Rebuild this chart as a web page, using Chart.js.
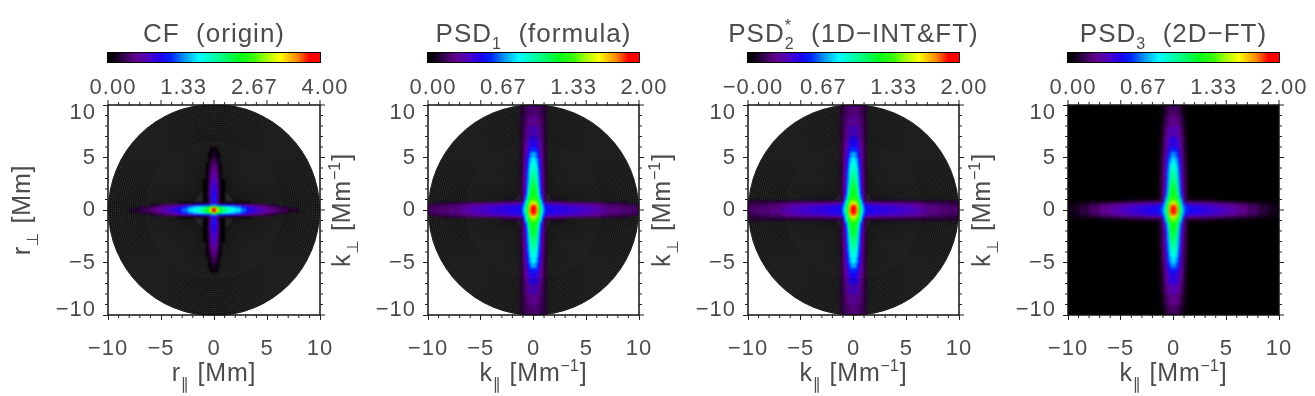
<!DOCTYPE html>
<html><head><meta charset="utf-8">
<style>html,body{margin:0;background:#fff;width:1315px;height:396px;overflow:hidden}canvas{position:absolute;top:0}</style>
<script src="https://cdn.jsdelivr.net/npm/chart.js@4"></script>
</head><body>
<canvas id="c0" width="370" height="396" style="left:0"></canvas>
<canvas id="c1" width="370" height="396" style="left:325px"></canvas>
<canvas id="c2" width="370" height="396" style="left:645px"></canvas>
<canvas id="c3" width="350" height="396" style="left:965px"></canvas>
<script>
// Quadrant cell edges, in Mm or Mm^-1. The picture is mirrored about both axes.
const gridEdges = [0,.2,.4,.6,.8,1,1.25,1.5,2,2.5,3,3.5,4,4.5,5,5.5,6,7,8,9,10];
const axisTicks = [-10,-5,0,5,10];
const minorTicks = [-9,-8,-7,-6,-4,-3,-2,-1,1,2,3,4,6,7,8,9];
const discRadius = 10;
const ringStep = .2;
const spokeCount = 240;

const cfBarTicks = ['0.00','1.33','2.67','4.00'];
const psd1BarTicks = ['0.00','0.67','1.33','2.00'];
const psd2BarTicks = ['\u22120.00','0.67','1.33','2.00'];
const psd3BarTicks = ['0.00','0.67','1.33','2.00'];
const barTickFractions = [0,1/3,2/3,1];

// Each row is one |y| band; rows stop where the cross meets the background.
const cfRows = [
[4.0,3.3,2.7,2.4,2.2,2.05,1.95,1.8,1.65,1.35,1.05,.9,.78,.66,.56,.46,.34,.22],
[2.9,2.7,2.4,2.2,2.0,1.85,1.75,1.6,1.4,1.15,.92,.78,.66,.54,.44,.36,.25],
[1.4,1.3,1.2,1.15,1.1,1.05,1,.92,.8,.7,.58,.5,.42,.34,.26,.18],
[1.0,.7,.35,.2,.18,.18,.15,.12,.1,.08,.06],
[1.05,.7,.25,.06,.02],
[1.1,.8,.32,.08,0],
[1.05,.8,.35,.08,0],
[.98,.75,.35,.08,0],
[.88,.68,.32,.06,0],
[.78,.62,.3,.05,0],
[.68,.54,.25,.04],
[.56,.45,.2,.03],
[.46,.35,.14,.03],
[.32,.22,.09],
[.18,.11,.03],
[.1,.06]
];
const psd1Rows = [
[2.0,1.75,1.35,1.05,.82,.55,.52,.5,.48,.47,.46,.44,.42,.4,.38,.36,.32,.27,.24,.22],
[1.98,1.7,1.3,1.0,.78,.55,.5,.48,.46,.45,.44,.42,.4,.38,.36,.34,.3,.25,.22,.2],
[1.8,1.55,1.25,.95,.72,.5,.47,.44,.42,.4,.38,.36,.34,.33,.31,.29,.26,.22,.19,.16],
[1.6,1.45,1.2,.9,.62,.3,.28,.27,.26,.25,.24,.23,.22,.21,.2,.19,.17,.14,.12,.1],
[1.45,1.35,1.15,.85,.55,.15,.14,.13,.12,.12,.11,.1,.1,.1,.09,.08,.06,.05,.04,.03],
[1.32,1.25,1.0,.7,.38,.14],
[1.28,1.2,.92,.62,.36,.14],
[1.25,1.12,.82,.52,.32,.14],
[1.2,1.05,.76,.48,.3,.14],
[1.12,.98,.72,.46,.28,.13],
[1.05,.92,.68,.44,.27,.13],
[.98,.88,.64,.42,.26,.12],
[.92,.82,.6,.4,.25,.12],
[.84,.74,.55,.38,.24,.12],
[.75,.64,.48,.34,.22,.12],
[.58,.54,.42,.3,.21,.12],
[.48,.46,.37,.28,.2,.12],
[.38,.37,.31,.25,.18,.12],
[.29,.28,.25,.21,.16,.12],
[.23,.22,.2,.18,.14,.12]
];
const psd2Rows = [
[2.0,1.75,1.35,1.05,.82,.55,.52,.5,.48,.47,.46,.44,.42,.41,.39,.37,.33,.28,.25,.23],
[1.98,1.7,1.3,1.0,.78,.55,.5,.48,.46,.45,.44,.42,.41,.39,.37,.35,.31,.26,.23,.21],
[1.8,1.55,1.25,.95,.72,.5,.47,.44,.42,.4,.38,.37,.36,.35,.33,.31,.28,.24,.21,.18],
[1.6,1.45,1.2,.9,.62,.3,.28,.27,.26,.25,.25,.24,.24,.23,.22,.21,.19,.17,.15,.13],
[1.45,1.35,1.15,.85,.55,.15,.14,.13,.12,.12,.12,.12,.12,.12,.12,.12,.12,.12,.12,.12],
[1.32,1.25,1.0,.7,.38,.14],
[1.28,1.2,.92,.62,.36,.14],
[1.25,1.12,.82,.52,.32,.14],
[1.2,1.05,.76,.48,.3,.14],
[1.12,.98,.72,.46,.28,.13],
[1.05,.92,.68,.44,.27,.13],
[.98,.88,.64,.42,.26,.12],
[.92,.82,.6,.4,.25,.12],
[.84,.74,.55,.38,.24,.13],
[.75,.64,.48,.35,.23,.13],
[.6,.55,.43,.31,.22,.13],
[.5,.47,.38,.29,.21,.13],
[.4,.38,.32,.26,.2,.13],
[.31,.3,.26,.22,.18,.13],
[.25,.24,.21,.19,.16,.13]
];
const psd3Rows = [
[2.0,1.75,1.35,1.05,.82,.6,.56,.52,.5,.47,.45,.43,.41,.38,.35,.32,.27,.2,.13,.08],
[1.98,1.7,1.3,1.0,.78,.58,.55,.5,.48,.46,.44,.41,.39,.36,.33,.31,.26,.19,.12,.07],
[1.8,1.55,1.25,.95,.72,.52,.48,.45,.43,.41,.39,.37,.35,.32,.3,.27,.23,.17,.11,.06],
[1.6,1.45,1.2,.9,.62,.32,.3,.28,.27,.26,.25,.24,.22,.2,.18,.16,.13,.1,.06,.04],
[1.45,1.35,1.15,.85,.55,.15,.14,.13,.12,.12,.11,.1,.09,.08,.07,.06,.05,.03,.02,.01],
[1.32,1.25,1.0,.7,.38,.16,.04,.02,.01,.01,.01,.01,0],
[1.28,1.2,.92,.62,.36,.16,.04,0],
[1.25,1.12,.82,.52,.32,.15,.04,0],
[1.2,1.05,.76,.48,.3,.15,.04,0],
[1.12,.98,.72,.46,.28,.14,.04,0],
[1.05,.92,.68,.44,.27,.14,.04,0],
[.98,.88,.64,.42,.26,.13,.04,0],
[.92,.82,.6,.4,.25,.12,.03,0],
[.82,.72,.55,.38,.24,.12,.03,0],
[.72,.62,.48,.34,.22,.11,.03,0],
[.56,.52,.42,.3,.2,.1,.03,0],
[.46,.44,.36,.27,.18,.09,.02,0],
[.35,.34,.28,.22,.15,.07,.02,0],
[.26,.25,.21,.16,.11,.05,.01,0],
[.19,.18,.15,.12,.08,.03,.01,0]
];

// Colour bar: position along the bar and its colour.
const colourPositions = [0,.04,.08,.14,.2,.25,.3,.36,.43,.52,.62,.69,.75,.81,.89,.95,1];
const colourValues = [[0,0,0],[20,0,28],[60,0,85],[100,0,150],[70,0,200],[30,0,240],[0,40,255],[0,150,255],[0,255,255],[0,255,150],[0,255,30],[60,255,0],[170,255,0],[255,255,0],[255,140,0],[255,0,0],[255,0,0]];

const titleRuns = [
 [{t:'CF  (origin)'}],
 [{t:'PSD'},{sub:'1'},{t:'  (formula)'}],
 [{t:'PSD'},{sub:'2',sup:'*'},{t:'  (1D\u2212INT&FT)'}],
 [{t:'PSD'},{sub:'3'},{t:'  (2D\u2212FT)'}]
];
const xTitleRuns = [
 [{t:'r'},{sub:'\u2225'},{t:' [Mm]'}],
 [{t:'k'},{sub:'\u2225'},{t:' [Mm'},{sup:'\u22121'},{t:']'}]
];
const yTitleRuns = [
 [{t:'r'},{sub:'\u22a5'},{t:' [Mm]'}],
 [{t:'k'},{sub:'\u22a5'},{t:' [Mm'},{sup:'\u22121'},{t:']'}]
];

const FONT = '"Liberation Sans","DejaVu Sans",sans-serif';
const INK = '#4c4c4c';

function colourAt(t){
  t=Math.max(0,Math.min(1,t));
  let i=0; while(i<colourPositions.length-2 && t>colourPositions[i+1]) i++;
  const f=(t-colourPositions[i])/(colourPositions[i+1]-colourPositions[i]);
  const a=colourValues[i],b=colourValues[i+1];
  return 'rgb('+a.map((v,k)=>Math.round(v+(b[k]-v)*f)).join(',')+')';
}
function cellsFrom(rows){
  const out=[];
  rows.forEach((row,r)=>row.forEach((v,c)=>{
    const x0=gridEdges[c],x1=gridEdges[c+1],y0=gridEdges[r],y1=gridEdges[r+1];
    [1,-1].forEach(sx=>[1,-1].forEach(sy=>out.push({x:sx*(x0+x1)/2,y:sy*(y0+y1)/2,w:x1-x0,h:y1-y0,v})));
  }));
  return out;
}
function runsWidth(ctx,runs,size,ls){
  let w=0;
  runs.forEach(r=>{
    if(r.t){ctx.font=size+'px '+FONT;ctx.letterSpacing=ls+'px';w+=ctx.measureText(r.t).width;}
    else{ctx.font=Math.round(size*.62)+'px '+FONT;ctx.letterSpacing='0px';
      w+=Math.max(r.sub?ctx.measureText(r.sub).width:0,r.sup?ctx.measureText(r.sup).width:0)+1;}
  });
  return w;
}
function drawRuns(ctx,runs,size,ls){
  let x=-runsWidth(ctx,runs,size,ls)/2;
  ctx.fillStyle=INK;ctx.textAlign='left';ctx.textBaseline='alphabetic';
  runs.forEach(r=>{
    if(r.t){ctx.font=size+'px '+FONT;ctx.letterSpacing=ls+'px';ctx.fillText(r.t,x,0);x+=ctx.measureText(r.t).width;}
    else{ctx.font=Math.round(size*.62)+'px '+FONT;ctx.letterSpacing='0px';
      let w=0;
      if(r.sub){ctx.fillText(r.sub,x,size*.3);w=ctx.measureText(r.sub).width;}
      if(r.sup){ctx.fillText(r.sup,x,-size*.42);w=Math.max(w,ctx.measureText(r.sup).width);}
      x+=w+1;}
  });
  ctx.letterSpacing='0px';
}
function drawRings(ctx,cx,cy,unit,fromR,alpha){
  ctx.strokeStyle='rgba(0,0,0,'+alpha+')';ctx.lineWidth=1;
  for(let r=fromR;r<=discRadius;r+=ringStep){
    ctx.beginPath();ctx.arc(cx,cy,r*unit,0,Math.PI*2);ctx.stroke();
  }
}

const heatPlugin={id:'heat',
  beforeDraw(chart){chart.ctx.letterSpacing='1px';},
  beforeDatasetsDraw(chart,_,o){
    const {ctx,chartArea:a,scales:{x,y}}=chart;
    const cx=x.getPixelForValue(0),cy=y.getPixelForValue(0),unit=x.getPixelForValue(1)-cx;
    ctx.save();
    ctx.beginPath();
    if(o.round) ctx.arc(cx,cy,discRadius*unit,0,Math.PI*2);
    else ctx.rect(a.left,a.top,a.width,a.height);
    ctx.clip();
    ctx.fillStyle=o.round?'#2a2a2a':'#000';
    ctx.fillRect(a.left,a.top,a.width,a.height);
    if(o.round){
      drawRings(ctx,cx,cy,unit,ringStep,.3);
      ctx.strokeStyle='rgba(0,0,0,.3)';ctx.lineWidth=1;
      for(let i=0;i<spokeCount;i++){
        const th=i/spokeCount*Math.PI*2;
        ctx.beginPath();ctx.moveTo(cx+2*unit*Math.cos(th),cy+2*unit*Math.sin(th));
        ctx.lineTo(cx+discRadius*unit*Math.cos(th),cy+discRadius*unit*Math.sin(th));ctx.stroke();
      }
    }
    const tmp=document.createElement('canvas');tmp.width=chart.width;tmp.height=chart.height;
    const t=tmp.getContext('2d');
    chart.data.datasets[0].data.forEach(p=>{
      if(p.v/o.vmax<o.floor) return;
      const l=Math.round(x.getPixelForValue(p.x-p.w/2)),r=Math.round(x.getPixelForValue(p.x+p.w/2));
      const u=Math.round(y.getPixelForValue(p.y+p.h/2)),d=Math.round(y.getPixelForValue(p.y-p.h/2));
      t.fillStyle=colourAt(p.v/o.vmax);t.fillRect(l,u,r-l,d-u);
    });
    ctx.filter='blur('+o.blur+'px)';
    ctx.drawImage(tmp,0,0);
    ctx.filter='none';
    if(o.round) drawRings(ctx,cx,cy,unit,6.6,.22);
    ctx.restore();
  },
  afterDraw(chart,_,o){
    const {ctx,chartArea:a,scales:{x,y,x2}}=chart;
    ctx.save();
    // colour bar
    const g=ctx.createLinearGradient(x2.left,0,x2.right,0);
    colourPositions.forEach((p,i)=>g.addColorStop(p,colourAt(p)));
    ctx.fillStyle=g;ctx.fillRect(a.left,53,a.width,10);
    ctx.strokeStyle='#000';ctx.lineWidth=1;ctx.strokeRect(a.left-.5,52.5,a.width+1,10);
    // frame and tick marks on all sides
    ctx.strokeStyle='#111';ctx.lineWidth=1.5;ctx.strokeRect(a.left,a.top,a.width,a.height);
    ctx.lineWidth=1;ctx.strokeStyle='#222';
    const mark=(x0,y0,x1,y1)=>{ctx.beginPath();ctx.moveTo(x0,y0);ctx.lineTo(x1,y1);ctx.stroke();};
    axisTicks.forEach(v=>{
      const px=x.getPixelForValue(v),py=y.getPixelForValue(v);
      mark(px,a.top,px,a.top-5);mark(a.right,py,a.right+5,py);
    });
    minorTicks.forEach(v=>{
      const px=x.getPixelForValue(v),py=y.getPixelForValue(v);
      mark(px,a.top,px,a.top-3);mark(px,a.bottom,px,a.bottom+3);
      mark(a.left,py,a.left-3,py);mark(a.right,py,a.right+3,py);
    });
    // rich text
    ctx.translate((a.left+a.right)/2,41.5);drawRuns(ctx,o.title,26,1);ctx.setTransform(1,0,0,1,0,0);
    ctx.translate((a.left+a.right)/2,381);drawRuns(ctx,o.xTitle,25,.8);ctx.setTransform(1,0,0,1,0,0);
    ctx.translate(a.left-78,(a.top+a.bottom)/2);ctx.rotate(-Math.PI/2);drawRuns(ctx,o.yTitle,25,.8);
    ctx.restore();
  }
};

function makePanel(id,rows,vmax,barTicks,title,xTitle,yTitle,left,right,round,blur,floor){
  const fixed=(prop,val)=>scale=>{scale[prop]=val;};
  new Chart(document.getElementById(id),{
    type:'scatter',
    data:{datasets:[{label:id,data:cellsFrom(rows),pointRadius:0,showLine:false}]},
    plugins:[heatPlugin],
    options:{
      responsive:false,animation:false,events:[],
      layout:{padding:{left:0,top:0,bottom:0,right}},
      plugins:{legend:{display:false},tooltip:{enabled:false},
        heat:{vmax,title,xTitle,yTitle,round,blur,floor}},
      scales:{
        x:{type:'linear',position:'bottom',min:-10,max:10,afterFit:fixed('height',81),
          afterBuildTicks:s=>{s.ticks=axisTicks.map(value=>({value}));},
          border:{display:false},grid:{drawOnChartArea:false,tickLength:5,tickColor:'#222'},
          ticks:{padding:16,color:INK,font:{size:22,family:FONT},maxRotation:0,autoSkip:false,
            callback:v=>String(v).replace('-','\u2212')}},
        x2:{type:'linear',position:'top',min:0,max:vmax,afterFit:fixed('height',105),
          afterBuildTicks:s=>{s.ticks=barTickFractions.map(f=>({value:f*vmax}));},
          border:{display:false},grid:{drawOnChartArea:false,drawTicks:false},
          ticks:{padding:4,labelOffset:5,color:INK,font:{size:22,family:FONT},maxRotation:0,autoSkip:false,
            callback:(v,i)=>barTicks[i]}},
        y:{type:'linear',position:'left',min:-10,max:10,afterFit:fixed('width',left),
          afterBuildTicks:s=>{s.ticks=axisTicks.map(value=>({value}));},
          border:{display:false},grid:{drawOnChartArea:false,tickLength:5,tickColor:'#222'},
          ticks:{padding:7,color:INK,autoSkip:false,
            font:c=>({size:22,family:FONT,lineHeight:c.tick&&c.tick.value===10?16/22:c.tick&&c.tick.value===-10?10/22:1.2}),
            callback:v=>v===10?['','10']:v===-10?['\u221210','']:String(v).replace('-','\u2212')}}
      }
    }
  });
}
makePanel('c0',cfRows,4,cfBarTicks,titleRuns[0],xTitleRuns[0],yTitleRuns[0],108,50,true,1.2,0);
makePanel('c1',psd1Rows,2,psd1BarTicks,titleRuns[1],xTitleRuns[1],yTitleRuns[1],103,56,true,1.3,.06);
makePanel('c2',psd2Rows,2,psd2BarTicks,titleRuns[2],xTitleRuns[1],yTitleRuns[1],103,56,true,1.3,.06);
makePanel('c3',psd3Rows,2,psd3BarTicks,titleRuns[3],xTitleRuns[1],yTitleRuns[1],103,36,false,1.6,0);
</script>
</body></html>
